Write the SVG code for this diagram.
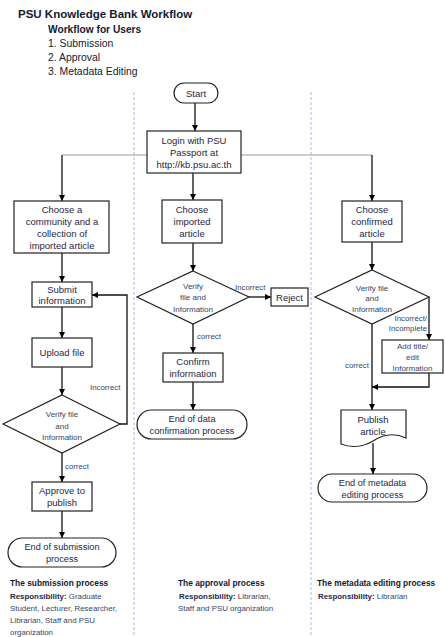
<svg xmlns="http://www.w3.org/2000/svg" width="445" height="637" viewBox="0 0 445 637">
<defs>
<marker id="arr" markerUnits="userSpaceOnUse" markerWidth="7" markerHeight="7" refX="6" refY="3" orient="auto">
<path d="M0,0 L6,3 L0,6 z" fill="#000"/>
</marker>
<style>
.box{fill:#fff;stroke:#222;stroke-width:1.2}
.t{font-family:"Liberation Sans",Arial,sans-serif;font-size:9.5px;fill:#1e2747;text-anchor:middle}
.tt{font-family:"Liberation Sans",Arial,sans-serif;font-size:9.2px;fill:#1e2747;text-anchor:middle}
.s{font-family:"Liberation Sans",Arial,sans-serif;font-size:8px;fill:#34456c;text-anchor:middle}
.lbl{font-family:"Liberation Sans",Arial,sans-serif;font-size:7.8px;fill:#34456c}
.c{fill:none;stroke:#111;stroke-width:1.3}
.ca{fill:none;stroke:#111;stroke-width:1.3;marker-end:url(#arr)}
.g{fill:none;stroke:#9a9a9a;stroke-width:1}
.sep{fill:none;stroke:#9dc0e4;stroke-width:1;stroke-dasharray:3,2}
.h{font-family:"Liberation Sans",Arial,sans-serif;font-weight:bold;fill:#141a33}
.r{font-family:"Liberation Sans",Arial,sans-serif;font-size:7.9px;fill:#34456c}
</style>
</defs>
<rect width="445" height="637" fill="#fff"/>

<g id="header">
<text class="h" x="18" y="18" font-size="11.5">PSU Knowledge Bank Workflow</text>
<text class="h" x="48" y="33" font-size="10.2">Workflow for Users</text>
<text x="48" y="47" font-family="Liberation Sans,Arial,sans-serif" font-size="10.4" fill="#141a33">1. Submission</text>
<text x="48" y="61" font-family="Liberation Sans,Arial,sans-serif" font-size="10.4" fill="#141a33">2. Approval</text>
<text x="48" y="75" font-family="Liberation Sans,Arial,sans-serif" font-size="10.4" fill="#141a33">3. Metadata Editing</text>
</g>

<g id="separators">
<line class="sep" x1="134" y1="92" x2="134" y2="637"/>
<line class="sep" x1="311" y1="92" x2="311" y2="637"/>
</g>

<g id="connectors">
<line class="ca" x1="195" y1="103" x2="195" y2="131"/>
<polyline class="g" points="147,155 62,155"/>
<polyline class="g" points="241,155 372,155"/>
<line class="ca" x1="62" y1="155" x2="62" y2="201"/>
<line class="ca" x1="372" y1="155" x2="372" y2="201"/>
<line class="ca" x1="193" y1="173" x2="193" y2="200"/>
<!-- left -->
<line class="ca" x1="62" y1="253" x2="62" y2="282"/>
<line class="ca" x1="62" y1="307" x2="62" y2="338"/>
<line class="ca" x1="62" y1="367" x2="62" y2="395"/>
<polyline class="ca" points="120,424 127,424 127,295 92,295"/>
<line class="ca" x1="62" y1="453" x2="62" y2="482"/>
<line class="ca" x1="62" y1="511" x2="62" y2="538"/>
<!-- middle -->
<line class="ca" x1="193" y1="243" x2="193" y2="271"/>
<line class="ca" x1="249" y1="297" x2="271" y2="297"/>
<line class="ca" x1="193" y1="324" x2="193" y2="353"/>
<line class="ca" x1="193" y1="382" x2="193" y2="410"/>
<!-- right -->
<line class="ca" x1="372" y1="242" x2="372" y2="270"/>
<polyline class="ca" points="429,297 429,340"/>
<polyline class="ca" points="429,373 429,387 372,387"/>
<line class="ca" x1="372" y1="324" x2="372" y2="410"/>
<line class="ca" x1="373" y1="443" x2="373" y2="474"/>
</g>

<g id="labels">
<text class="lbl" x="90" y="390">Incorrect</text>
<text class="lbl" x="65" y="469">correct</text>
<text class="lbl" x="235" y="290">Incorrect</text>
<text class="lbl" x="197" y="339">correct</text>
<text class="lbl" x="427" y="321" text-anchor="end">Incorrect/</text>
<text class="lbl" x="427" y="331" text-anchor="end">Incomplete</text>
<text class="lbl" x="345" y="368">correct</text>
</g>

<g id="start">
<rect class="box" x="174" y="83" width="44" height="20" rx="10"/>
<text class="t" x="196" y="97">Start</text>
</g>

<g id="login">
<rect class="box" x="147" y="131" width="94" height="42"/>
<text class="t" x="194" y="144">Login with PSU</text>
<text class="t" x="194" y="156">Passport at</text>
<text class="t" x="194" y="168">http://kb.psu.ac.th</text>
</g>

<g id="choose-community">
<rect class="box" x="14" y="201" width="95" height="52"/>
<text class="t" x="62" y="213">Choose a</text>
<text class="t" x="62" y="225">community and a</text>
<text class="t" x="62" y="237">collection of</text>
<text class="t" x="62" y="249">imported article</text>
</g>

<g id="submit-info">
<rect class="box" x="32" y="282" width="60" height="25"/>
<text class="t" x="62" y="293">Submit</text>
<text class="t" x="62" y="304">information</text>
</g>

<g id="upload-file">
<rect class="box" x="32" y="338" width="60" height="29"/>
<text class="t" x="62" y="356">Upload file</text>
</g>

<g id="verify-left">
<polygon class="box" points="62,395 120,424 62,453 3,424"/>
<text class="s" x="62" y="417">Verify file</text>
<text class="s" x="62" y="429">and</text>
<text class="s" x="62" y="440">Information</text>
</g>

<g id="approve">
<rect class="box" x="32" y="482" width="60" height="29"/>
<text class="t" x="62" y="494">Approve to</text>
<text class="t" x="62" y="506">publish</text>
</g>

<g id="end-submission">
<rect class="box" x="8" y="538" width="108" height="29" rx="14.5"/>
<text class="tt" x="62" y="550">End of submission</text>
<text class="tt" x="62" y="562">process</text>
</g>

<g id="choose-imported">
<rect class="box" x="162" y="200" width="60" height="43"/>
<text class="t" x="192" y="213">Choose</text>
<text class="t" x="192" y="225">imported</text>
<text class="t" x="192" y="237">article</text>
</g>

<g id="verify-middle">
<polygon class="box" points="193,271 249,297 193,324 137,297"/>
<text class="s" x="193" y="289">Verify</text>
<text class="s" x="193" y="300">file and</text>
<text class="s" x="193" y="312">Information</text>
</g>

<g id="reject">
<rect class="box" x="271" y="288" width="37" height="18"/>
<text class="t" x="289.5" y="300.5">Reject</text>
</g>

<g id="confirm">
<rect class="box" x="163" y="353" width="60" height="29"/>
<text class="t" x="193" y="365">Confirm</text>
<text class="t" x="193" y="377">information</text>
</g>

<g id="end-confirmation">
<rect class="box" x="137" y="410" width="110" height="29" rx="14.5"/>
<text class="tt" x="192" y="422">End of data</text>
<text class="tt" x="192" y="434">confirmation process</text>
</g>

<g id="choose-confirmed">
<rect class="box" x="342" y="201" width="60" height="41"/>
<text class="t" x="372" y="213">Choose</text>
<text class="t" x="372" y="225">confirmed</text>
<text class="t" x="372" y="237">article</text>
</g>

<g id="verify-right">
<polygon class="box" points="372,270 429,297 372,324 315,297"/>
<text class="s" x="372" y="291">Verify file</text>
<text class="s" x="372" y="301">and</text>
<text class="s" x="372" y="312">Information</text>
</g>

<g id="add-title">
<rect class="box" x="382" y="340" width="61" height="33"/>
<text class="s" x="412.5" y="349">Add title/</text>
<text class="s" x="412.5" y="360">edit</text>
<text class="s" x="412.5" y="371">Information</text>
</g>

<g id="publish">
<path class="box" d="M341,410 H406 V438 C393,432 382,435 373,441 C363,447 351,448 341,444 Z"/>
<text class="t" x="373" y="423">Publish</text>
<text class="t" x="373" y="435">article</text>
</g>

<g id="end-metadata">
<rect class="box" x="318" y="474" width="109" height="28" rx="14"/>
<text class="tt" x="372.5" y="486">End of metadata</text>
<text class="tt" x="372.5" y="498">editing process</text>
</g>

<g id="footer">
<text class="h" x="10" y="586" font-size="8.4">The submission process</text>
<text class="r" x="10" y="599"><tspan font-weight="bold" fill="#1e2747">Responsibility:</tspan> Graduate</text>
<text class="r" x="10" y="611">Student, Lecturer, Researcher,</text>
<text class="r" x="10" y="623">Librarian, Staff and PSU</text>
<text class="r" x="10" y="635">organization</text>
<text class="h" x="178" y="586" font-size="8.4">The approval process</text>
<text class="r" x="179" y="599"><tspan font-weight="bold" fill="#1e2747">Responsibility:</tspan> Librarian,</text>
<text class="r" x="178" y="611">Staff and PSU organization</text>
<text class="h" x="317" y="586" font-size="8.4">The metadata editing process</text>
<text class="r" x="318" y="599"><tspan font-weight="bold" fill="#1e2747">Responsibility:</tspan> Librarian</text>
</g>
</svg>
